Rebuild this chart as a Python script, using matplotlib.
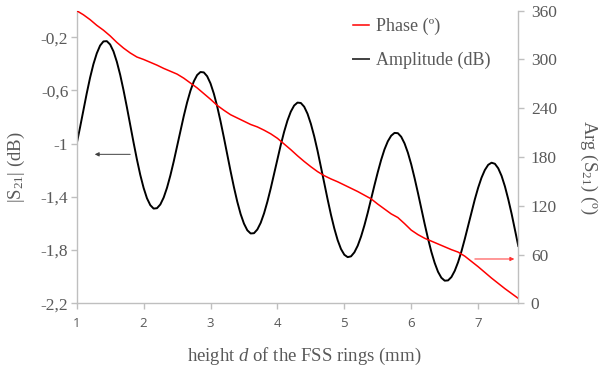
import matplotlib
matplotlib.use("Agg")
import matplotlib.pyplot as plt
from matplotlib.ticker import FixedLocator, FixedFormatter

plt.rcParams['font.family'] = ['Liberation Serif', 'DejaVu Serif']
plt.rcParams['mathtext.fontset'] = 'custom'
plt.rcParams['mathtext.rm'] = 'Liberation Serif'
plt.rcParams['mathtext.it'] = 'Liberation Serif:italic'

# amplitude |S21| (dB), read every 0.05 mm from 1.00 to 7.60
d_amp = [round(1.0 + 0.05 * i, 2) for i in range(133)]
amplitude = [-1.000, -0.878, -0.748, -0.622, -0.504, -0.402, -0.321, -0.262, -0.231, -0.229,
             -0.254, -0.306, -0.384, -0.482, -0.598, -0.725, -0.858, -0.991, -1.118, -1.234,
             -1.332, -1.410, -1.462, -1.488, -1.485, -1.457, -1.405, -1.331, -1.239, -1.134,
             -1.020, -0.905, -0.793, -0.690, -0.602, -0.532, -0.484, -0.461, -0.464, -0.493,
             -0.547, -0.624, -0.720, -0.832, -0.954, -1.081, -1.207, -1.327, -1.436, -1.529,
             -1.601, -1.651, -1.675, -1.673, -1.645, -1.595, -1.524, -1.436, -1.336, -1.227,
             -1.117, -1.009, -0.911, -0.826, -0.759, -0.713, -0.691, -0.694, -0.722, -0.775,
             -0.851, -0.945, -1.054, -1.173, -1.296, -1.418, -1.534, -1.637, -1.725, -1.792,
             -1.835, -1.853, -1.847, -1.817, -1.767, -1.698, -1.614, -1.519, -1.416, -1.313,
             -1.214, -1.122, -1.043, -0.982, -0.940, -0.919, -0.921, -0.948, -0.998, -1.068,
             -1.156, -1.259, -1.370, -1.486, -1.602, -1.712, -1.812, -1.896, -1.963, -2.008,
             -2.030, -2.028, -2.003, -1.956, -1.891, -1.810, -1.717, -1.618, -1.517, -1.419,
             -1.331, -1.256, -1.198, -1.159, -1.143, -1.151, -1.185, -1.242, -1.321, -1.418,
             -1.527, -1.646, -1.769]

# phase Arg(S21) (deg), read every 0.1 mm from 1.0 to 7.6
d_phase = [round(1.0 + 0.1 * i, 1) for i in range(67)]
phase = [360, 355, 349, 342, 336, 329, 321, 314, 308, 303,
         300, 296.5, 293, 289, 285.5, 282, 277, 271, 265, 258,
         251, 243.5, 237.5, 232, 228, 224, 220, 217, 213, 208.5,
         203, 196, 189, 181.5, 174.5, 168, 162, 157, 153, 149.5,
         145.5, 141.5, 137.5, 133, 128.5, 122, 116, 110, 105.5, 98,
         90, 84.5, 80, 76.5, 73, 69.5, 66, 63, 58, 51.5,
         45, 38, 31, 24.5, 18, 12, 6]

x_ticks = [1, 2, 3, 4, 5, 6, 7]
left_ticks = [-2.2, -1.8, -1.4, -1.0, -0.6, -0.2]
left_labels = ['-2,2', '-1,8', '-1,4', '-1', '-0,6', '-0,2']
right_ticks = [0, 60, 120, 180, 240, 300, 360]

grey = '#595959'
axis_col = '#bfbfbf'

fig = plt.figure(figsize=(6.01, 3.70), dpi=100)
ax = fig.add_axes([0.1276, 0.1803, 0.7348, 0.7908])
ax2 = ax.twinx()

amp_line, = ax.plot(d_amp, amplitude, color='black', lw=1.4, label='Amplitude (dB)',
                    solid_joinstyle='round')
ph_line, = ax2.plot(d_phase, phase, color='#ff0000', lw=1.1, label='Phase (º)',
                    solid_joinstyle='round')

ax.set_xlim(1, 7.6)
ax.set_ylim(-2.2, 0)
ax2.set_ylim(0, 360)

ax.xaxis.set_major_locator(FixedLocator(x_ticks))
ax.yaxis.set_major_locator(FixedLocator(left_ticks))
ax.yaxis.set_major_formatter(FixedFormatter(left_labels))
ax2.yaxis.set_major_locator(FixedLocator(right_ticks))

for a in (ax, ax2):
    a.spines['top'].set_visible(False)
    for s in ('left', 'right', 'bottom'):
        a.spines[s].set_color(axis_col)
        a.spines[s].set_linewidth(1.0)
    a.tick_params(colors=axis_col, labelcolor=grey, length=4, width=1.0, direction='out')
ax.spines['right'].set_visible(False)
ax2.spines['left'].set_visible(False)
ax2.spines['bottom'].set_visible(False)

ax.tick_params(axis='y', labelsize=12.5, pad=2)
ax2.tick_params(axis='y', labelsize=12.5, pad=5)
ax.tick_params(axis='x', labelsize=9.5, pad=6)
for lbl in ax.get_xticklabels():
    lbl.set_fontfamily(['Open Sans', 'DejaVu Sans'])

ax.set_xlabel('height $\\mathit{d}$ of the FSS rings (mm)', fontsize=13.5, color=grey)
ax.set_ylabel('|S$_{\\mathrm{21}}$| (dB)', fontsize=13.5, color=grey, va='center')
ax2.set_ylabel('Arg (S$_{\\mathrm{21}}$) (º)', fontsize=13.5, color=grey, rotation=-90,
               va='center')
ax.xaxis.set_label_coords(0.515, -0.146)
ax.yaxis.set_label_coords(-0.136, 0.466)
ax2.yaxis.set_label_coords(1.16, 0.466)

# pointer arrows towards each series' axis
ax.annotate('', xy=(1.27, -1.08), xytext=(1.80, -1.08),
            arrowprops=dict(arrowstyle='-|>', color='#404040', lw=0.7,
                            mutation_scale=6, shrinkA=0, shrinkB=0))
ax2.annotate('', xy=(7.54, 54.5), xytext=(6.95, 54.5),
             arrowprops=dict(arrowstyle='-|>', color='#ff3030', lw=0.7,
                             mutation_scale=6, shrinkA=0, shrinkB=0))

leg = ax2.legend(handles=[ph_line, amp_line], loc='upper left',
                 bbox_to_anchor=(0.625, 0.976), frameon=False, fontsize=13,
                 handlelength=0.9, handletextpad=0.4, labelspacing=0.95,
                 borderaxespad=0.0, borderpad=0.0)
for t in leg.get_texts():
    t.set_color(grey)
leg.get_lines()[1].set_color('#404040')

fig.savefig('out.png', dpi=100)
